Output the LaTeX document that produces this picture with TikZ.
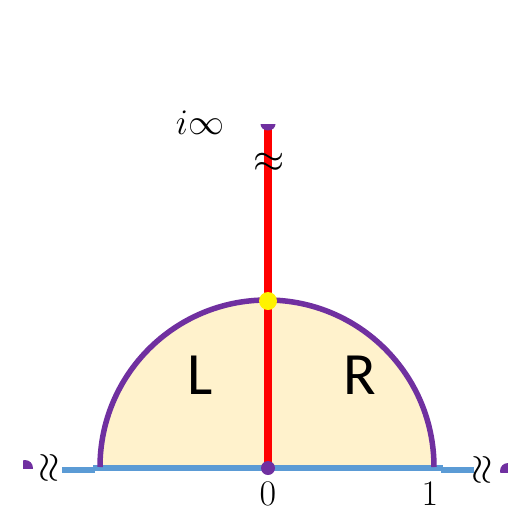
\RequirePackage{fix-cm}
\documentclass[tikz,border=0pt]{standalone}
\usepackage{fontspec}
\newfontfamily\lrfont{Carlito}
\definecolor{pur}{HTML}{7030A0}
\definecolor{blu}{HTML}{5B9BD5}
\definecolor{cream}{HTML}{FFF2CC}
\begin{document}
\begin{tikzpicture}[x=1pt,y=-1pt,
  mathlbl/.style={inner sep=0pt,font=\fontsize{36}{40}\selectfont},
  apxlbl/.style={inner sep=0pt,font=\fontsize{40}{44}\selectfont},
  sidelbl/.style={inner sep=0pt,font=\fontsize{60}{66}\lrfont},
  axisline/.style={blu,line width=6pt},
  dotp/.style={circle,fill=pur,inner sep=0pt,minimum size=14pt}]
\useasboundingbox (0,0) rectangle (508,531);
% half disk
\fill[cream] (100,467) arc[start angle=180,end angle=360,radius=167] -- cycle;
% blue axis
\coordinate (la) at (62,469.5);
\coordinate (lb) at (95,469.5);
\coordinate (ma) at (93,467.5);
\coordinate (mb) at (443,467.5);
\coordinate (ra) at (441,469.5);
\coordinate (rb) at (474,469.5);
\draw[axisline] (la) -- (lb);
\draw[axisline] (ma) -- (mb);
\draw[axisline] (ra) -- (rb);
% arc
\draw[pur,line width=5.5pt] (100,467) arc[start angle=180,end angle=360,radius=167];
% red line
\coordinate (top) at (268,124);
\coordinate (org) at (268,468);
\draw[red,line width=8pt] (top) -- (org);
% top half-dot
\fill[pur] (260.5,124) arc[start angle=180,end angle=0,x radius=7.5,y radius=6.5] -- cycle;
% edge dots
\begin{scope}
\clip (23,458) rectangle (40,468);
\fill[pur] (25,468) circle[radius=8];
\end{scope}
\begin{scope}
\clip (499,462) rectangle (508,472);
\fill[pur] (508,471) circle[radius=8];
\end{scope}
% dots
\node[dotp] (o) at (org) {};
\node[circle,fill=yellow,inner sep=0pt,minimum size=18pt] (y) at (268,301) {};
% labels
\node[mathlbl] (iinf) at (200,123) {$i\infty$};
\node[apxlbl] (apx) at (269,163) {$\approx$};
\node[apxlbl,rotate=90] (apl) at (50,468) {$\approx$};
\node[apxlbl,rotate=90] (apr) at (483,470) {$\approx$};
\node[mathlbl] (zero) at (268,494) {$0$};
\node[mathlbl] (one) at (430,494) {$1$};
\node[sidelbl] (L) at (200,375) {L};
\node[sidelbl] (R) at (360,375) {R};
\end{tikzpicture}
\end{document}
